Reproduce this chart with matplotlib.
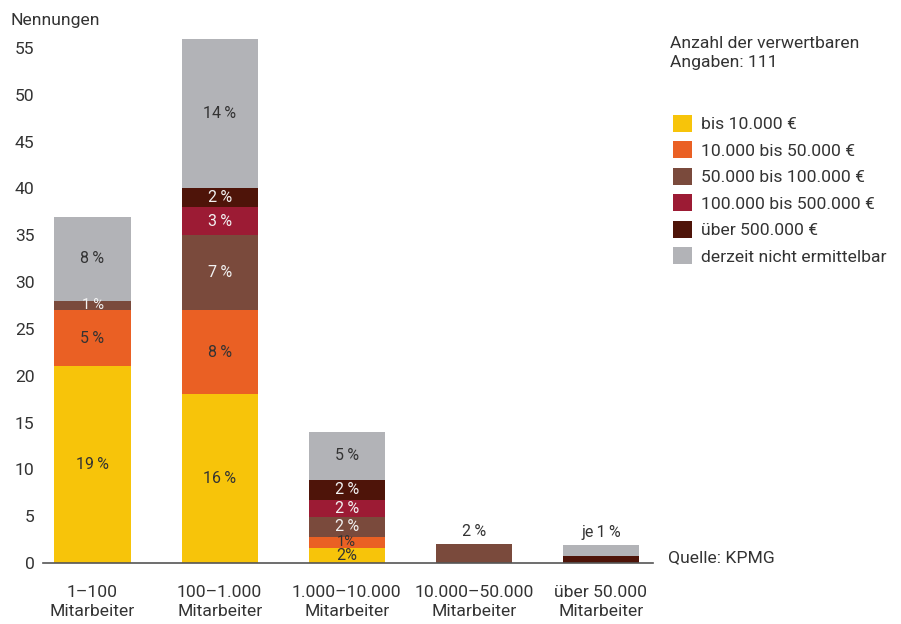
import matplotlib
matplotlib.use("Agg")
import matplotlib.pyplot as plt
import numpy as np
from matplotlib.patches import Patch

plt.rcParams['font.family'] = ['Roboto', 'DejaVu Sans']

categories = ['1–100\nMitarbeiter', '100–1.000\nMitarbeiter', '1.000–10.000\nMitarbeiter',
              '10.000–50.000\nMitarbeiter', 'über 50.000\nMitarbeiter']
series = ['bis 10.000 €', '10.000 bis 50.000 €', '50.000 bis 100.000 €',
          '100.000 bis 500.000 €', 'über 500.000 €', 'derzeit nicht ermittelbar']
colors = ['#F7C40A', '#EA6024', '#7A4A3C', '#9C1B34', '#4E1409', '#B2B3B7']
text_colors = ['#333333', '#333333', '#F2F2F2', '#F2F2F2', '#F2F2F2', '#333333']

# Nennungen per series (rows) and category (columns)
bis10k = [21, 18, 1.6, 0, 0]
bis50k = [6, 9, 1.2, 0, 0]
bis100k = [1, 8, 2.1, 2, 0]
bis500k = [0, 3, 1.8, 0, 0]
ueber500k = [0, 2, 2.2, 0, 0.8]
unbekannt = [9, 16, 5.1, 0, 1.1]
values = [bis10k, bis50k, bis100k, bis500k, ueber500k, unbekannt]

# percentage labels inside segments ('' = none)
labels = [
    ['19 %', '16 %', '2%', '', ''],
    ['5 %', '8 %', '1%', '', ''],
    ['1 %', '7 %', '2 %', '', ''],
    ['', '3 %', '2 %', '', ''],
    ['', '2 %', '2 %', '', ''],
    ['8 %', '14 %', '5 %', '', ''],
]
top_labels = ['', '', '', '2 %', 'je 1 %']

fs = 12.6

fig = plt.figure(figsize=(9.01, 6.24), dpi=100)
ax = fig.add_axes([43 / 901, 1 - 563 / 624, 610 / 901, 57 * 9.364 / 624])

x = np.arange(len(categories))
bottom = np.zeros(len(categories))
for vals, col, tcol, labs in zip(values, colors, text_colors, labels):
    vals = np.array(vals, dtype=float)
    ax.bar(x, vals, width=0.6, bottom=bottom, color=col, linewidth=0)
    for i, lab in enumerate(labs):
        if lab:
            size = 11.5 if vals[i] > 1.5 else 10.5
            ax.text(x[i], bottom[i] + vals[i] / 2, lab.replace(' ', '\u2009'),
                    ha='center', va='center', color=tcol, fontsize=size)
    bottom += vals

for i, lab in enumerate(top_labels):
    if lab:
        ax.text(x[i], bottom[i] + 1.4, lab.replace(' ', '\u2009'), ha='center', va='center',
                color='#333333', fontsize=11.5)

ax.set_xlim(-0.39, 4.41)
ax.set_ylim(0, 57)
ax.set_yticks(np.arange(0, 56, 5))
ax.set_xticks(x)
ax.set_xticklabels(categories, fontsize=fs, color='#333333', linespacing=1.35)
ax.tick_params(axis='y', length=0, labelsize=fs, labelcolor='#333333', pad=6)
ax.tick_params(axis='x', length=0, pad=16)
for s in ['left', 'right', 'top']:
    ax.spines[s].set_visible(False)
ax.spines['bottom'].set_color('#555555')
ax.spines['bottom'].set_linewidth(1.2)

fig.text(11 / 901, 1 - 20 / 624, 'Nennungen', fontsize=fs, color='#333333', va='center')
fig.text(670 / 901, 1 - 36 / 624, 'Anzahl der verwertbaren\nAngaben: 111', fontsize=fs,
         color='#333333', va='top', linespacing=1.3)
fig.text(668 / 901, 1 - 558 / 624, 'Quelle: KPMG', fontsize=fs, color='#333333', va='center')

handles = [Patch(facecolor=c, edgecolor='none') for c in colors]
leg = fig.legend(handles, series, loc='upper left', bbox_to_anchor=(666 / 901, 1 - 108 / 624),
                 frameon=False, fontsize=fs, handlelength=1.1, handleheight=1.1,
                 handletextpad=0.5, labelspacing=0.52, borderaxespad=0)
for t in leg.get_texts():
    t.set_color('#333333')

fig.savefig('out.png', dpi=100)
